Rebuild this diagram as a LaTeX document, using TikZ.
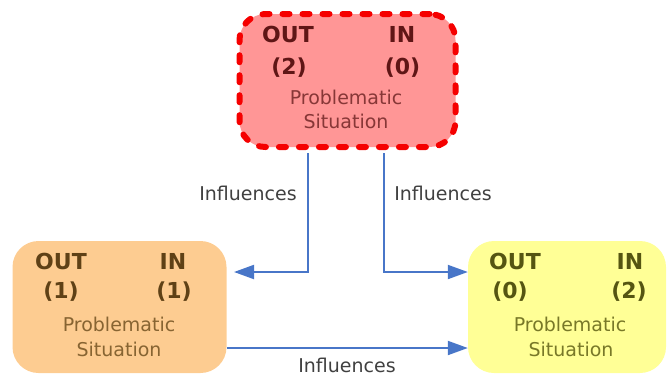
\documentclass[tikz,border=0pt]{standalone}
\usepackage{fontspec}
\setmainfont{DejaVu Sans}
\usetikzlibrary{arrows.meta}
\definecolor{redfill}{RGB}{255,150,150}
\definecolor{redline}{RGB}{245,0,0}
\definecolor{orangefill}{RGB}{253,204,145}
\definecolor{yellowfill}{RGB}{255,255,150}
\definecolor{linkblue}{RGB}{72,118,200}
\definecolor{redtxt}{RGB}{95,22,22}
\definecolor{redsub}{RGB}{135,55,55}
\definecolor{orangetxt}{RGB}{95,65,22}
\definecolor{orangesub}{RGB}{135,100,50}
\definecolor{yellowtxt}{RGB}{85,85,18}
\definecolor{yellowsub}{RGB}{120,120,40}
\tikzset{
  situation/.style={rounded corners=26pt, inner sep=0pt},
  count/.style={font=\fontsize{22}{24}\selectfont\bfseries, inner sep=0pt},
  caption/.style={font=\fontsize{19}{21}\selectfont, inner sep=0pt},
  link/.style={draw=linkblue, line width=2pt, -{Triangle[length=20pt,width=14pt]}},
  linklabel/.style={font=\fontsize{19}{21}\selectfont, text=black!75, inner sep=0pt}
}
\begin{document}
\begin{tikzpicture}[x=1pt,y=-1pt]
\useasboundingbox (0,0) rectangle (669,376);

% three situation boxes
\node[situation, fill=redfill, draw=redline, line width=6pt, line cap=round,
      dash pattern=on 7pt off 13pt, minimum width=216pt, minimum height=133pt]
      (top) at (347.5,80.5) {};
\node[situation, fill=orangefill, minimum width=214pt, minimum height=132pt]
      (left) at (119.5,307) {};
\node[situation, fill=yellowfill, minimum width=198pt, minimum height=132pt]
      (right) at (567,307) {};

% top box text
\node[count, text=redtxt] (tout) at (288,34) {OUT};
\node[count, text=redtxt] (tin) at (402,34) {IN};
\node[count, text=redtxt] (toutn) at (289,68) {(2)};
\node[count, text=redtxt] (tinn) at (402.5,68) {(0)};
\node[caption, text=redsub] (tp) at (346,97) {Problematic};
\node[caption, text=redsub] (ts) at (346,121) {Situation};

% left box text
\node[count, text=orangetxt] (lout) at (61,261) {OUT};
\node[count, text=orangetxt] (lin) at (173,261) {IN};
\node[count, text=orangetxt] (loutn) at (61,292) {(1)};
\node[count, text=orangetxt] (linn) at (174,292) {(1)};
\node[caption, text=orangesub] (lp) at (119,324) {Problematic};
\node[caption, text=orangesub] (ls) at (119,349) {Situation};

% right box text
\node[count, text=yellowtxt] (rout) at (515,261) {OUT};
\node[count, text=yellowtxt] (rin) at (630,261) {IN};
\node[count, text=yellowtxt] (routn) at (510,292) {(0)};
\node[count, text=yellowtxt] (rinn) at (629,292) {(2)};
\node[caption, text=yellowsub] (rp) at (570,324) {Problematic};
\node[caption, text=yellowsub] (rs) at (571,349) {Situation};

% connectors
\coordinate (lefttip) at (234,272);
\draw[link] (top.south -| 308,0) ++(0,3) |- (lefttip);
\draw[link] (top.south -| 384,0) ++(0,3) |- (right.west |- 0,272);
\draw[link] (left.east |- 0,348) -- (right.west |- 0,348);

% connector labels
\node[linklabel] (infl) at (248,193) {Influences};
\node[linklabel] (infr) at (443,193) {Influences};
\node[linklabel] (infb) at (347,365) {Influences};
\end{tikzpicture}
\end{document}
